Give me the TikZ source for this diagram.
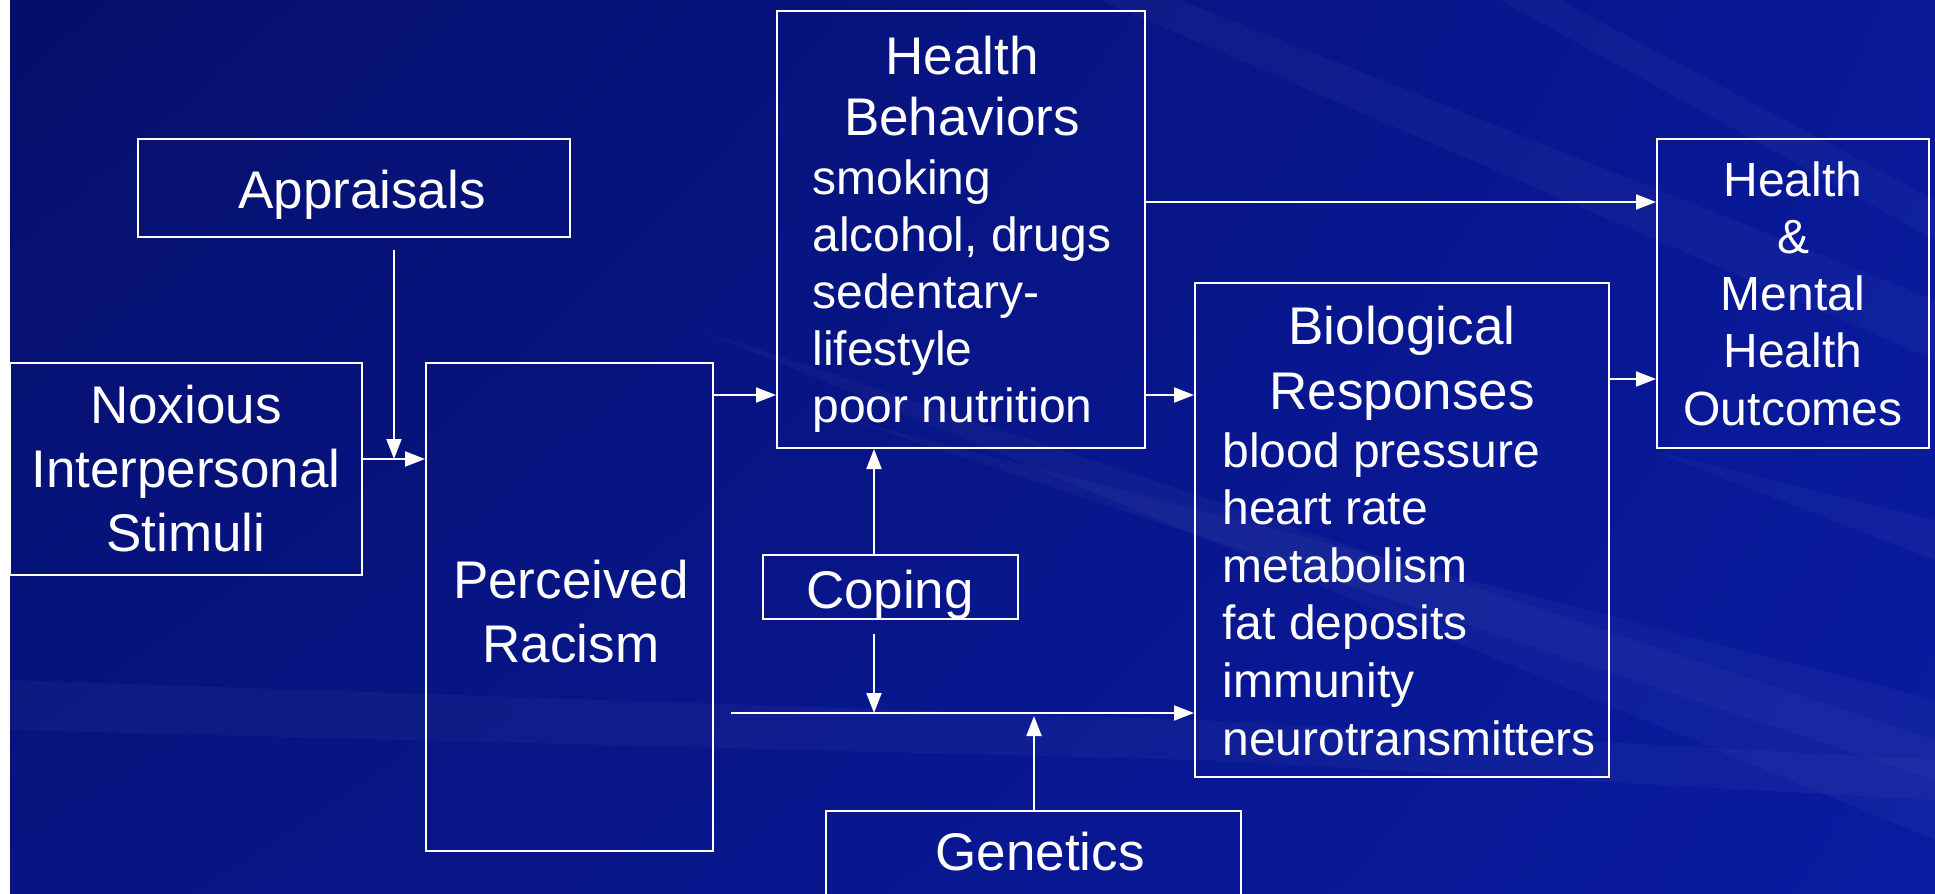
\documentclass[tikz,border=0pt]{standalone}
\usepackage{fontspec}
\setmainfont{Liberation Sans}
\usetikzlibrary{arrows.meta,calc,shadings}
\definecolor{bgdark}{RGB}{5,15,105}
\definecolor{bgmid}{RGB}{10,27,160}
\begin{document}
\begin{tikzpicture}[x=0.5pt,y=-0.5pt,
  box/.style={draw=white, line width=1pt, inner sep=0pt, text=white, align=center,
    font=\fontsize{24}{28.6}\selectfont},
  txt/.style={text=white, inner sep=0pt, font=\fontsize{24}{28.6}\selectfont},
  big/.style={text=white, inner sep=0pt, align=center, font=\fontsize{26.5}{32}\selectfont},
  arr/.style={draw=white, line width=1pt, -{Triangle[length=10pt,width=7.5pt]}},
  streak/.style={fill=white, opacity=0.03}]
\useasboundingbox (0,0) rectangle (1935,894);
\begin{scope}
\clip (0,0) rectangle (1935,894);
\fill[white] (0,0) rectangle (1935,894);
\shade[upper left=bgdark, upper right=bgmid!85!bgdark, lower left=bgdark!55!bgmid, lower right=bgmid]
  (10,0) rectangle (1935,894);
% light streaks
\fill[streak] (700,330) -- (1935,740) -- (1935,840) -- cycle;
\fill[streak] (850,420) -- (1935,700) -- (1935,780) -- cycle;
\fill[streak] (10,680) -- (1200,720) -- (1935,760) -- (1935,800) -- (1200,760) -- (10,730) -- cycle;
\fill[streak] (1100,0) -- (1180,0) -- (1935,300) -- (1935,360) -- cycle;
\fill[streak] (1500,0) -- (1560,0) -- (1935,200) -- (1935,240) -- cycle;
\fill[streak] (1650,450) -- (1935,520) -- (1935,560) -- cycle;

% boxes
\node[box, minimum width=216pt, minimum height=49pt] (appr) at (354,188) {};
\node[box, minimum width=176pt, minimum height=106pt,
  font=\fontsize{26.5}{32}\selectfont] (nox) at (186,469) {Noxious\\Interpersonal\\Stimuli};
\node[box, minimum width=143.5pt, minimum height=244pt] (perc) at (569.5,607) {};
\node[box, minimum width=184pt, minimum height=218.5pt] (hb) at (961,229.5) {};
\node[box, minimum width=127.5pt, minimum height=32pt] (cop) at (890.5,587) {};
\node[box, minimum width=207.5pt, minimum height=50pt] (gen) at (1033.5,861) {};
\node[box, minimum width=207pt, minimum height=247pt] (bio) at (1402,530) {};
\node[box, minimum width=136pt, minimum height=154.5pt] (out) at (1793,293.5)
  {Health\\\&\\Mental\\Health\\Outcomes};

% texts inside boxes
\node[big] (apprt) at (362,195) {Appraisals};
\node[big] (perct) at (571,612) {Perceived\\Racism};
\node[big] (copt) at (890,595) {Coping};
\node[big] (gent) at (1040,852) {Genetics};
\node[big, font=\fontsize{26.5}{30.5}\selectfont] (hbt) at (962,86.5) {Health\\Behaviors};
\node[txt, align=left, anchor=west] (hbl) at (812,296)
  {smoking\\alcohol, drugs\\sedentary-\\lifestyle\\poor nutrition};
\node[big, font=\fontsize{26.5}{32.5}\selectfont] (biot) at (1402,363) {Biological\\Responses};
\node[txt, align=left, anchor=west, font=\fontsize{24}{28.8}\selectfont] (biol) at (1222,594)
  {blood pressure\\heart rate\\metabolism\\fat deposits\\immunity\\neurotransmitters};

% junction coordinates
\coordinate (j1) at (394,459);
\coordinate (a0) at (394,250);
\coordinate (c0) at (874,634);
\coordinate (j2) at (874,713);
\coordinate (l0) at (731,713);
\coordinate (g1) at (1034,716);
\coordinate (y1) at (0,395);
\coordinate (y2) at (0,202);
\coordinate (y3) at (0,379);

% connectors
\draw[arr] (a0) -- (j1);
\draw[arr] (nox.east |- j1) -- (perc.west |- j1);
\draw[arr] (perc.east |- y1) -- (hb.west |- y1);
\draw[arr] (hb.east |- y1) -- (bio.west |- y1);
\draw[arr] (hb.east |- y2) -- (out.west |- y2);
\draw[arr] (bio.east |- y3) -- (out.west |- y3);
\draw[arr] (cop.north -| c0) -- (hb.south -| c0);
\draw[arr] (c0) -- (j2);
\draw[arr] (l0) -- (bio.west |- l0);
\draw[arr] (gen.north -| g1) -- (g1);
\end{scope}
\end{tikzpicture}
\end{document}
